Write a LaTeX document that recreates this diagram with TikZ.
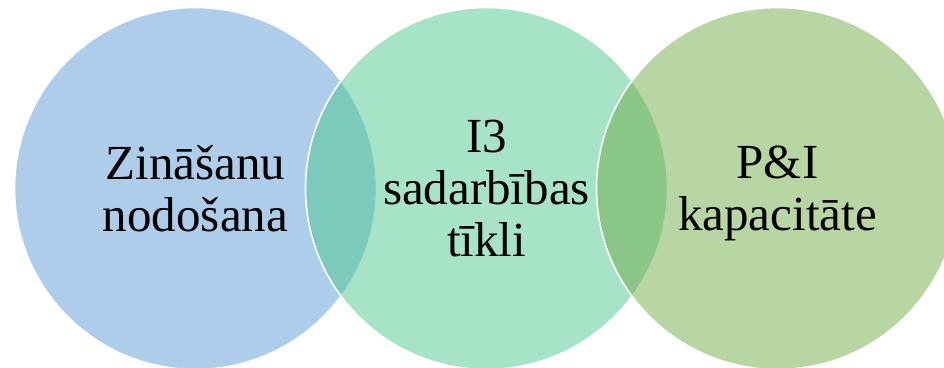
\documentclass[tikz,border=0pt]{standalone}
\usepackage{fontspec}
\setmainfont{Liberation Serif}
\definecolor{cblue}{RGB}{91,155,213}
\definecolor{cteal}{RGB}{77,199,143}
\definecolor{cgreen}{RGB}{112,173,71}
\begin{document}
\begin{tikzpicture}[x=1pt,y=1pt,
  venn/.style={circle, minimum size=362pt, inner sep=0pt, draw=white, line width=1.6pt, fill opacity=0.5, draw opacity=1},
  lbl/.style={align=center, font=\fontsize{49}{52}\selectfont, text depth=0pt, inner sep=0pt, text=black}]
\useasboundingbox (0,0) rectangle (944,367);
\clip (0,0) rectangle (944,367);
\node[venn, fill=cblue] (c1) at (195.5,178.5) {};
\node[venn, fill=cteal] (c2) at (486.5,178.5) {};
\node[venn, fill=cgreen] (c3) at (777.5,178.5) {};
\node[lbl] (t1) at (c1.center) {Zināšanu\\nodošana};
\node[lbl] (t2) at (c2.center) {I3\\sadarbības\\tīkli};
\node[lbl] (t3) at (c3.center) {P\&I\\kapacitāte};
\end{tikzpicture}
\end{document}
